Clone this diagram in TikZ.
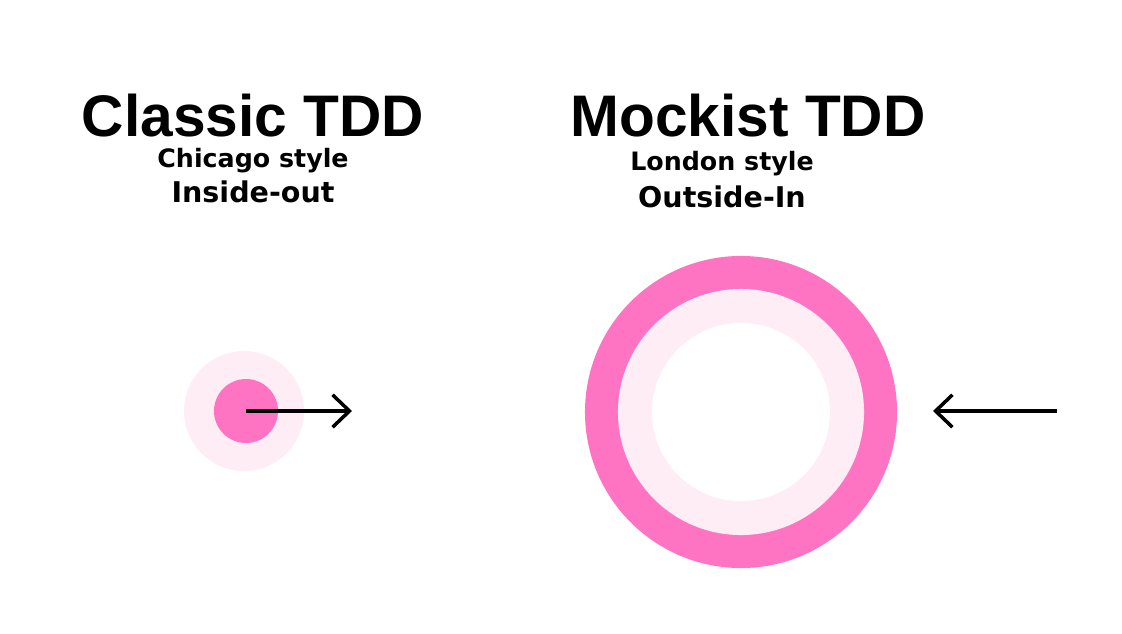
\documentclass[tikz,border=0pt]{standalone}
\usepackage{fontspec}
\usetikzlibrary{arrows.meta}
\newfontfamily\titlefont{Liberation Sans}
\newfontfamily\subfont{DejaVu Sans}
\definecolor{hotpink}{HTML}{FF74C2}
\definecolor{palepink}{HTML}{FFEDF6}

\begin{document}
\begin{tikzpicture}[x=0.025cm, y=-0.025cm,
        title/.style={anchor=base, inner sep=0pt, font=\titlefont\bfseries\fontsize{41.7}{48}\selectfont},
        sub/.style={anchor=base, inner sep=0pt, font=\subfont\bfseries\fontsize{18}{22}\selectfont},
        subbig/.style={anchor=base, inner sep=0pt, font=\subfont\bfseries\fontsize{20.3}{24}\selectfont},
        disc/.style={circle, inner sep=0pt, draw=none},
        flow/.style={line width=2.5pt, -{Straight Barb[length=12pt, width=23pt, line width=2.5pt]}}]
        \fill[white] (0,0) rectangle (1122,633);
        \useasboundingbox (0,0) rectangle (1122,633);
        % left side
        \node[title] (classic) at (253,136) {Classic TDD};
        \node[sub] (chicago) at (253,167) {Chicago style};
        \node[subbig] (insideout) at (253,202) {Inside-out};
        \node[disc, fill=palepink, minimum size=3cm] (c_outer) at (244,411) {};
        \node[disc, fill=hotpink, minimum size=1.6cm] (c_inner) at (246,411) {};
        \coordinate (c_end) at (352,411);
        \draw[flow] (c_inner.center) -- (c_end);
        % right side
        \node[title] (mockist) at (748,136) {Mockist TDD};
        \node[sub] (london) at (722,170) {London style};
        \node[subbig] (outsidein) at (722,207) {Outside-In};
        \node[disc, fill=hotpink, minimum size=7.8cm] (m_outer) at (741,412) {};
        \node[disc, fill=palepink, minimum size=6.15cm] (m_ring) at (741,412) {};
        \node[disc, fill=white, minimum size=4.45cm] (m_inner) at (741,412) {};
        \coordinate (m_start) at (1057,411);
        \coordinate (m_end) at (933,411);
        \draw[flow] (m_start) -- (m_end);
\end{tikzpicture}
\end{document}
